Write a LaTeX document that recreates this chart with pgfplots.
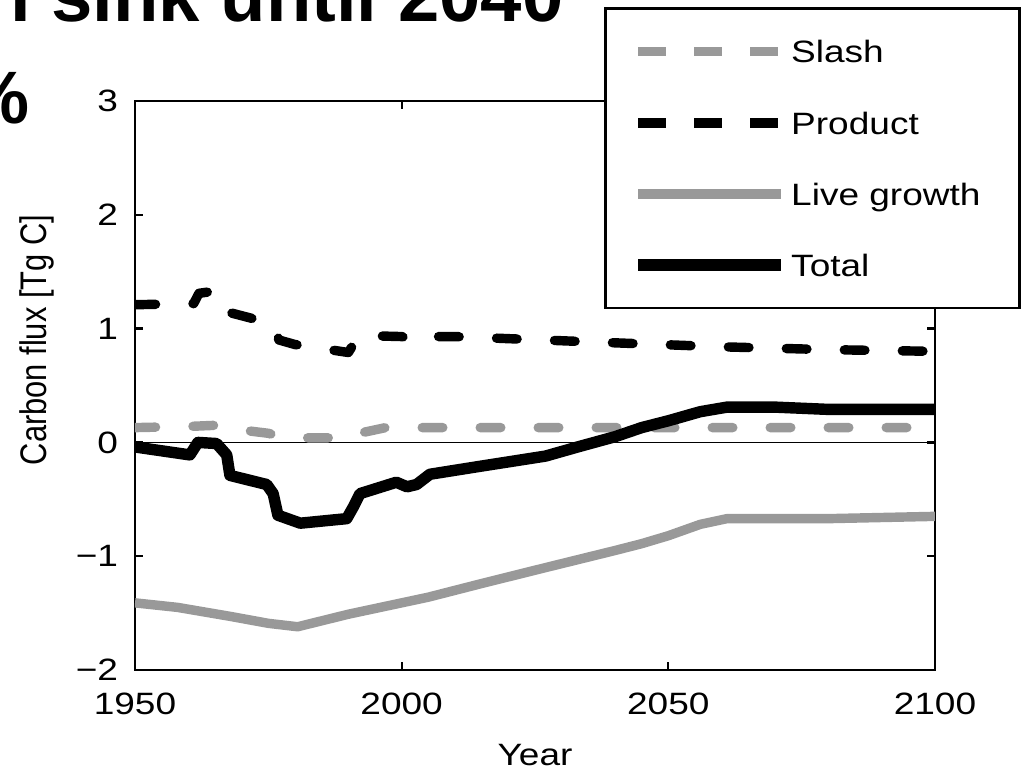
\documentclass[border=0pt]{standalone}
\usepackage{fontspec}
\setmainfont{Liberation Sans}[FakeStretch=1.2]
\newfontfamily\plainsans{Liberation Sans}
\newfontfamily\titlefont{Liberation Sans}
\usepackage{graphicx}
\usepackage{pgfplots}
\pgfplotsset{compat=1.18}
\definecolor{lgray}{RGB}{153,153,153}
\begin{document}
\begin{tikzpicture}
\begin{axis}[
  at={(0pt,0pt)}, anchor=south west,
  scale only axis, width=280pt, height=199.15pt,
  xmin=1950, xmax=2100, ymin=-2, ymax=3,
  xtick={1950,2000,2050,2100}, xticklabels={1950,2000,2050,2100},
  ytick={-2,-1,0,1,2,3}, yticklabels={−2,−1,0,1,2,3},
  tick align=inside, major tick length=2.8pt,
  tick style={black, line width=0.8pt},
  axis line style={line width=0.9pt},
  font=\fontsize{10.8}{13}\selectfont,
  xticklabel style={yshift=-4.4pt},
  yticklabel style={xshift=-2.4pt},
  xlabel={Year},
  xlabel style={at={(axis description cs:0.5,0)}, anchor=base, yshift=-33.5pt},
  ylabel={\plainsans\scalebox{1}[1.2]{Carbon flux [Tg C]}},
  ylabel style={at={(axis description cs:0,0.58)}, anchor=center, yshift=34.3pt},
  legend style={at={(1.1075,1.165)}, anchor=north east, draw=black, line width=0.9pt, fill=white,
    inner xsep=9.5pt, inner ysep=9.6pt, row sep=13.9pt, font=\fontsize{10.8}{13}\selectfont,
    nodes={inner sep=0pt, text height=9.5pt, text depth=1.5pt}},
  legend cell align=left,
  legend image code/.code={\path[draw=none, fill=none] (0pt,-1pt) rectangle (53.5pt,1pt); \draw[#1] (0pt,0pt) -- (50pt,0pt);},
]
% zero line
\addplot[black, line width=0.5pt, forget plot] coordinates {(1950,0) (2100,0)};
% Slash
\addplot[lgray, line width=3.3pt, line cap=round, line join=round, dash pattern=on 7.2pt off 13.1pt, forget plot] coordinates {
(1950,0.13) (1960,0.14) (1965,0.15) (1968,0.12) (1975,0.08) (1978,0.04) (1990,0.04) (1993,0.09) (1997,0.13) (2005,0.13) (2100,0.13)};
% Product
\addplot[black, line width=3.3pt, line cap=round, line join=round, dash pattern=on 7.2pt off 13.1pt, forget plot] coordinates {
(1950,1.21) (1961,1.22) (1962,1.31) (1965,1.33) (1967,1.15) (1976,1.04) (1977,0.90) (1980,0.86) (1990,0.79) (1992,0.94) (2000,0.93) (2003,0.89) (2004.5,0.93) (2010,0.93) (2040,0.875) (2060,0.84) (2080,0.815) (2100,0.80)};
% Live growth
\addplot[lgray, line width=3.3pt, line join=round, forget plot] coordinates {
(1950,-1.41) (1958,-1.45) (1968,-1.53) (1975,-1.59) (1980.5,-1.62) (1990,-1.51) (2000,-1.41) (2005,-1.36) (2015,-1.24) (2027,-1.10) (2040,-0.95) (2045,-0.89) (2050,-0.82) (2056,-0.72) (2061,-0.67) (2080,-0.67) (2100,-0.65)};
% Total
\addplot[black, line width=4pt, line join=round, forget plot] coordinates {
(1950,-0.04) (1960.3,-0.11) (1961.8,0.0) (1965.3,-0.01) (1967.2,-0.11) (1967.8,-0.29) (1974.7,-0.37) (1975.9,-0.45) (1976.8,-0.64) (1981,-0.71) (1989.7,-0.67) (1990.9,-0.57) (1992.2,-0.45) (1999,-0.35) (2001,-0.39) (2002.8,-0.37) (2005.3,-0.28) (2014.7,-0.21) (2027,-0.12) (2033,-0.04) (2040,0.05) (2045,0.13) (2050,0.19) (2056,0.27) (2061,0.31) (2070,0.31) (2080,0.29) (2100,0.29)};
\addlegendimage{lgray, line width=2.9pt, line cap=butt, dash pattern=on 9.8pt off 9.8pt}
\addlegendentry{Slash}
\addlegendimage{black, line width=3.5pt, line cap=butt, dash pattern=on 9.8pt off 9.8pt}
\addlegendentry{Product}
\addlegendimage{lgray, line width=3.5pt, line cap=butt}
\addlegendentry{Live growth\hspace*{4.2pt}}
\addlegendimage{black, line width=3.9pt, line cap=butt}
\addlegendentry{Total}
\end{axis}
\node[anchor=base east, inner sep=0pt, font=\titlefont\bfseries\fontsize{26}{30}\selectfont] at (150.15pt,227pt) {l sink until 2040};
\node[anchor=base east, inner sep=0pt, font=\titlefont\bfseries\fontsize{26}{30}\selectfont] at (-36.75pt,191.1pt) {\%};
\pgfresetboundingbox
\useasboundingbox (-47.25pt,-35.35pt) rectangle (311.5pt,234.5pt);
\end{tikzpicture}
\end{document}
